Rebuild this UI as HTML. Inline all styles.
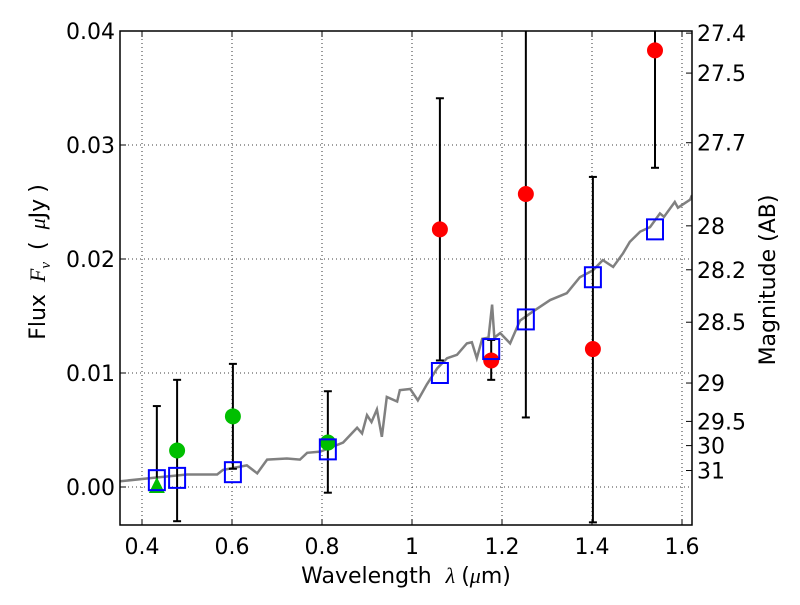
<!DOCTYPE html>
<html><head><meta charset="utf-8"><style>
body{margin:0;background:#fff}
svg text{font-family:"DejaVu Sans","Liberation Sans",sans-serif;fill:#000}
</style></head><body>
<svg id="c" width="800" height="600" viewBox="0 0 800 600"></svg>
<script>
const specLam=[0.351,0.424,0.5,0.567,0.58,0.633,0.656,0.678,0.722,0.751,0.767,0.796,0.847,0.878,0.889,0.9,0.91,0.922,0.933,0.944,0.967,0.973,0.996,1.013,1.033,1.056,1.078,1.1,1.122,1.133,1.144,1.156,1.17,1.178,1.183,1.196,1.218,1.24,1.269,1.307,1.344,1.373,1.402,1.424,1.447,1.469,1.484,1.507,1.529,1.551,1.56,1.584,1.591,1.618,1.622];
const specFlux=[0.0005,0.0008,0.0011,0.0011,0.0015,0.0019,0.0012,0.0024,0.0025,0.0024,0.003,0.0031,0.0039,0.0052,0.0047,0.0063,0.0057,0.0068,0.0044,0.0079,0.0075,0.0085,0.0086,0.0076,0.009,0.0104,0.0113,0.0116,0.0126,0.0127,0.0113,0.013,0.0131,0.016,0.0131,0.0135,0.0126,0.0146,0.0154,0.0164,0.017,0.0184,0.019,0.0199,0.0193,0.0205,0.0215,0.0224,0.0228,0.024,0.0237,0.025,0.0245,0.0252,0.0256];
const errLam=[0.433,0.478,0.602,0.813,1.062,1.176,1.253,1.402,1.54];
const errLo=[0.0,-0.003,0.0016,-0.0005,0.0111,0.0094,0.0061,-0.0031,0.028];
const errHi=[0.0071,0.0094,0.0108,0.0084,0.0341,0.0129,0.045,0.0272,0.045];
const sqFlux=[0.0006,0.0008,0.0013,0.0033,0.0100,0.0121,0.0147,0.0184,0.0226];
const greenLam=[0.478,0.602,0.813];
const greenFlux=[0.0032,0.0062,0.0039];
const triLam=[0.433];
const triFlux=[0.0];
const redLam=[1.062,1.176,1.253,1.402,1.54];
const redFlux=[0.0226,0.0111,0.0257,0.0121,0.0383];
const xTicks=[0.4,0.6,0.8,1.0,1.2,1.4,1.6];
const xTickLabels=["0.4","0.6","0.8","1","1.2","1.4","1.6"];
const yTicks=[0,0.01,0.02,0.03,0.04];
const yTickLabels=["0.00","0.01","0.02","0.03","0.04"];
const magTicks=[27.4,27.5,27.7,28,28.2,28.5,29,29.5,30,31];

const L=120,R=692,T=31,B=525;
const X=v=>142+(v-0.4)*450;
const Y=v=>487-v*11400;
const svg=document.getElementById('c');
const NS='http://www.w3.org/2000/svg';
function mk(tag,at,parent){const e=document.createElementNS(NS,tag);for(const k in at)e.setAttribute(k,at[k]);(parent||svg).appendChild(e);return e;}
const clip=mk('clipPath',{id:'pc'});mk('rect',{x:L,y:T,width:R-L,height:B-T},clip);

xTicks.forEach((t,i)=>{
  const g=mk('line',{x1:X(t),x2:X(t),y1:T,y2:B,stroke:'#000','stroke-width':0.8,'stroke-dasharray':'1,3'});
  
  const a=mk('line',{x1:X(t),x2:X(t),y1:B,y2:B-6,stroke:'#000'});
  
  const a2=mk('line',{x1:X(t),x2:X(t),y1:T,y2:T+6,stroke:'#000'});
  
  const tx=mk('text',{x:X(t),y:B+29,'text-anchor':'middle','font-size':22});tx.textContent=xTickLabels[i];
  
});
yTicks.forEach((t,i)=>{
  const g=mk('line',{x1:L,x2:R,y1:Y(t),y2:Y(t),stroke:'#000','stroke-width':0.8,'stroke-dasharray':'1,3'});
  
  const a=mk('line',{x1:L,x2:L+6,y1:Y(t),y2:Y(t),stroke:'#000'});
  
  const tx=mk('text',{x:L-5,y:Y(t)+8,'text-anchor':'end','font-size':22});tx.textContent=yTickLabels[i];
  
});
magTicks.forEach(m=>{
  const f=Math.pow(10,(23.9-m)/2.5);
  const a=mk('line',{x1:R-6,x2:R,y1:Y(f),y2:Y(f),stroke:'#000'});
  
  const tx=mk('text',{x:R+5,y:Y(f)+8,'font-size':22});tx.textContent=String(m);
  
});

const pg=mk('g',{'clip-path':'url(#pc)'});

const sp=mk('polyline',{points:specLam.map((l,i)=>X(l)+','+Y(specFlux[i])).join(' '),fill:'none',stroke:'#808080','stroke-width':2.5},pg);

errLam.forEach((l,i)=>{
  const g=mk('g',{},pg);
  
  mk('line',{x1:X(l),x2:X(l),y1:Y(errLo[i]),y2:Y(errHi[i]),stroke:'#000','stroke-width':2},g);
  mk('line',{x1:X(l)-4,x2:X(l)+4,y1:Y(errLo[i]),y2:Y(errLo[i]),stroke:'#000','stroke-width':2},g);
  mk('line',{x1:X(l)-4,x2:X(l)+4,y1:Y(errHi[i]),y2:Y(errHi[i]),stroke:'#000','stroke-width':2},g);
});
triLam.forEach((l,i)=>{
  const x=X(l),y=Y(triFlux[i]);
  const t=mk('polygon',{points:`${x},${y-10} ${x-8},${y+6} ${x+8},${y+6}`,fill:'#00bf00'},pg);
  
});
greenLam.forEach((l,i)=>{
  const c=mk('circle',{cx:X(l),cy:Y(greenFlux[i]),r:8,fill:'#00bf00'},pg);
  
});
redLam.forEach((l,i)=>{
  const c=mk('circle',{cx:X(l),cy:Y(redFlux[i]),r:8,fill:'#ff0000'},pg);
  
});
errLam.forEach((l,i)=>{
  const s=mk('rect',{x:X(l)-8,y:Y(sqFlux[i])-10,width:16,height:20,fill:'none',stroke:'#0000ff','stroke-width':2},pg);
  
});
const fr=mk('rect',{x:L,y:T,width:R-L,height:B-T,fill:'none',stroke:'#000','stroke-width':1.5});

</script>
<svg width="800" height="600" style="position:absolute;left:0;top:0">
<text x="406" y="583" text-anchor="middle" font-size="22">Wavelength<tspan dx="14" font-family="Liberation Serif" font-style="italic">λ</tspan><tspan dx="6">(</tspan><tspan font-family="Liberation Serif" font-style="italic">μ</tspan>m)</text>
<text transform="translate(45,262) rotate(-90)" text-anchor="middle" font-size="22">Flux<tspan dx="12" font-family="Liberation Serif" font-style="italic">F<tspan font-size="15" dy="5">ν</tspan></tspan><tspan dy="-5" dx="12">(</tspan><tspan dx="12" font-family="Liberation Serif" font-style="italic">μ</tspan>Jy<tspan dx="6">)</tspan></text>
<text transform="translate(775,280) rotate(-90)" text-anchor="middle" font-size="22">Magnitude (AB)</text>
</svg>
</body></html>
